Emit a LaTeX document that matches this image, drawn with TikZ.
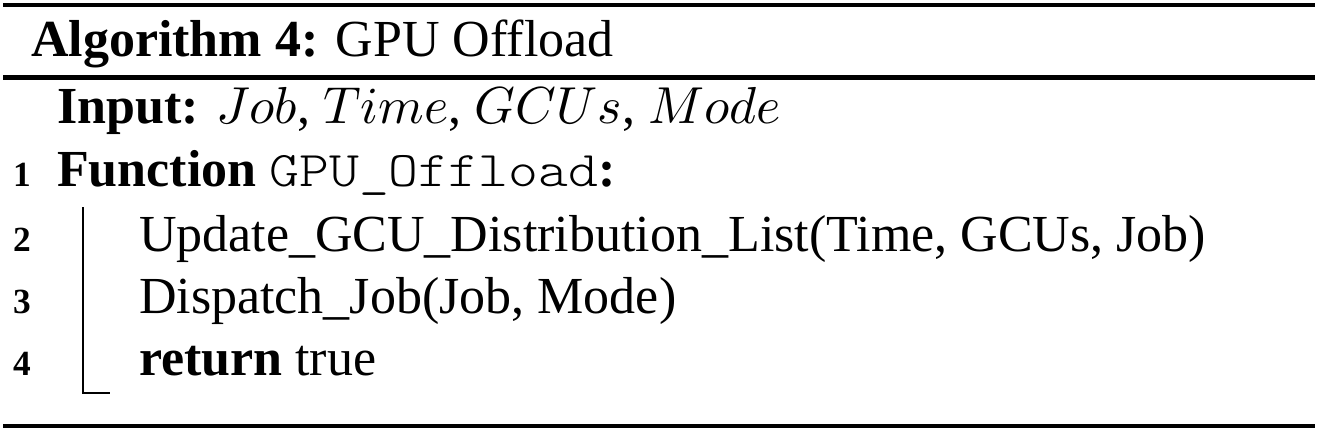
\documentclass[tikz,border=0pt]{standalone}
\usepackage{fontspec}
\setmainfont{Liberation Serif}
\newfontfamily\courfont[FakeStretch=1.14]{lmmonolt10-regular.otf}
\begin{document}
\begin{tikzpicture}[x=0.1923pt,y=-0.1923pt,
  every node/.style={inner sep=0pt, anchor=base west},
  txt/.style={font=\fontsize{10}{12}\selectfont},
  num/.style={font=\fontsize{6.8}{8}\selectfont\bfseries},
  toprulestyle/.style={line width=0.7pt},
  midrulestyle/.style={line width=0.8pt},
  botrulestyle/.style={line width=0.85pt},
  blockline/.style={line width=0.3pt}]
\useasboundingbox (0,0) rectangle (1318,434);
% rules
\coordinate (tl) at (3,5);   \coordinate (tr) at (1315,5);
\coordinate (ml) at (3,77.5);  \coordinate (mr) at (1315,77.5);
\coordinate (bl) at (3,426); \coordinate (br) at (1315,426);
\draw[toprulestyle] (tl) -- (tr);
\draw[midrulestyle] (ml) -- (mr);
\draw[botrulestyle] (bl) -- (br);
% caption
\node[txt] (title) at (30,56) {\textbf{Algorithm 4:} GPU Offload};
% input
\node[txt] (input) at (56,123) {\textbf{Input:} $Job$, $Time$, $GCUs$, $Mode$};
% lines
\node[num] (n1) at (12,186) {1};
\node[txt] (l1) at (56,186) {\textbf{Function} {\fontsize{9.6}{11}\courfont GPU\_Offload}\textbf{:}};
\node[num] (n2) at (12,251) {2};
\node[txt] (l2) at (138,251) {Update\_GCU\_Distribution\_List(Time, GCUs, Job)};
\node[num] (n3) at (12,313) {3};
\node[txt] (l3) at (138,313) {Dispatch\_Job(Job, Mode)};
\node[num] (n4) at (12,375) {4};
\node[txt] (l4) at (138,375) {\textbf{return} true};
% block line
\coordinate (vtop) at (83,207);
\coordinate (vbot) at (83,393);
\coordinate (vend) at (110,393);
\draw[blockline] (vtop) -- (vbot) -- (vend);
\end{tikzpicture}
\end{document}
